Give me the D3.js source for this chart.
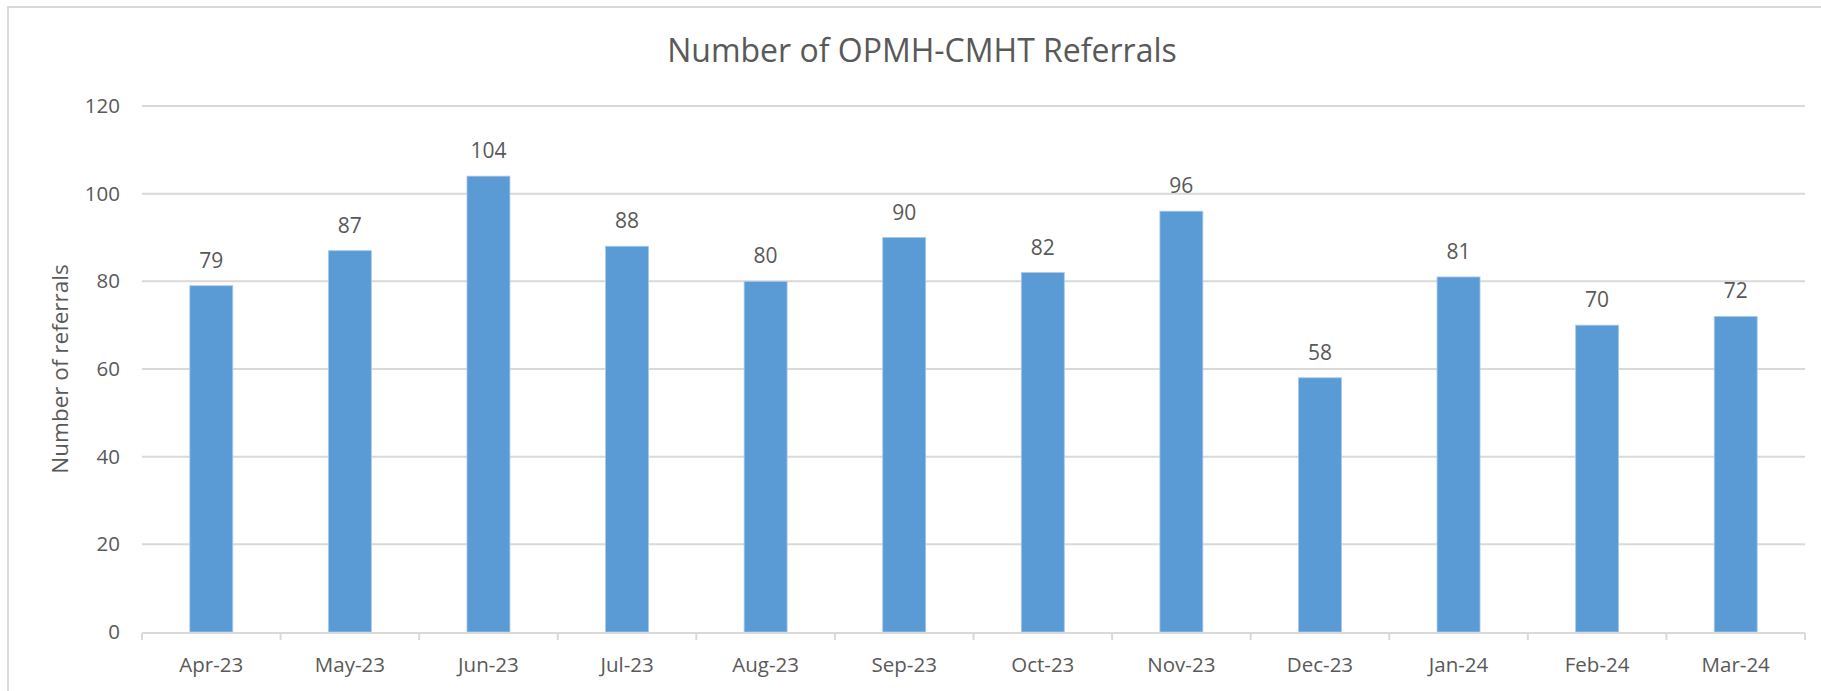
<!DOCTYPE html>
<html>
<head>
<meta charset="utf-8">
<script src="https://cdn.jsdelivr.net/npm/d3@7"></script>
<style>
  body { margin: 0; background: #fff; }
  svg { display: block; }
  text { font-family: "Open Sans", "Noto Sans", sans-serif; fill: #595959; }
</style>
</head>
<body>
<div id="chart"></div>
<script>
const months = ["Apr-23", "May-23", "Jun-23", "Jul-23", "Aug-23", "Sep-23",
                "Oct-23", "Nov-23", "Dec-23", "Jan-24", "Feb-24", "Mar-24"];
const referrals = [79, 87, 104, 88, 80, 90, 82, 96, 58, 81, 70, 72];
const yTicks = [0, 20, 40, 60, 80, 100, 120];
const chartTitle = "Number of OPMH-CMHT Referrals";
const yTitle = "Number of referrals";

const width = 1821, height = 691;
const plotLeft = 142, plotRight = 1805, plotTop = 106, plotBottom = 632;

const svg = d3.select("#chart").append("svg")
    .attr("width", width)
    .attr("height", height);

// outer chart border (cut off at right and bottom like the source)
svg.append("rect")
    .attr("x", 8).attr("y", 7)
    .attr("width", width + 10).attr("height", height + 10)
    .attr("fill", "none")
    .attr("stroke", "#d9d9d9")
    .attr("stroke-width", 2);

const x = d3.scaleBand().domain(months).range([plotLeft, plotRight]).paddingInner(0.69).paddingOuter(0.345);
const xEdge = d3.scaleBand().domain(months).range([plotLeft, plotRight]);
const y = d3.scaleLinear().domain([0, 120]).range([plotBottom, plotTop]);

// gridlines
svg.append("g")
    .selectAll("line")
    .data(yTicks.filter(d => d > 0))
    .join("line")
    .attr("x1", plotLeft).attr("x2", plotRight)
    .attr("y1", d => y(d)).attr("y2", d => y(d))
    .attr("stroke", "#d9d9d9")
    .attr("stroke-width", 2);

// y axis labels
const yAxis = d3.axisLeft(y).tickValues(yTicks).tickSize(0).tickPadding(22);
svg.append("g")
    .attr("transform", "translate(" + plotLeft + ",0)")
    .call(yAxis)
    .call(g => g.select(".domain").remove())
    .selectAll("text")
    .style("font-size", "20.5px")
    .style("font-family", "'Open Sans', sans-serif")
    .attr("fill", "#595959");

// bars
svg.append("g")
    .selectAll("rect")
    .data(referrals)
    .join("rect")
    .attr("x", (d, i) => x(months[i]))
    .attr("y", d => y(d))
    .attr("width", x.bandwidth())
    .attr("height", d => y(0) - y(d))
    .attr("fill", "#5b9bd5")
    .attr("stroke", "#a9c9ec")
    .attr("stroke-width", 0.8);

// data labels
svg.append("g")
    .selectAll("text")
    .data(referrals)
    .join("text")
    .attr("x", (d, i) => x(months[i]) + x.bandwidth() / 2)
    .attr("y", d => y(d) - 18)
    .attr("text-anchor", "middle")
    .style("font-size", "21px")
    .attr("fill", "#404040")
    .text(d => d);

// x axis line + ticks at category edges
svg.append("line")
    .attr("x1", plotLeft).attr("x2", plotRight)
    .attr("y1", plotBottom + 1).attr("y2", plotBottom + 1)
    .attr("stroke", "#d9d9d9")
    .attr("stroke-width", 2);
const edges = months.map(m => xEdge(m)).concat([plotRight]);
svg.append("g")
    .selectAll("line")
    .data(edges)
    .join("line")
    .attr("x1", d => d).attr("x2", d => d)
    .attr("y1", plotBottom + 1).attr("y2", plotBottom + 8)
    .attr("stroke", "#d9d9d9")
    .attr("stroke-width", 2);

// x labels
svg.append("g")
    .selectAll("text")
    .data(months)
    .join("text")
    .attr("x", d => xEdge(d) + xEdge.bandwidth() / 2)
    .attr("y", 672)
    .attr("text-anchor", "middle")
    .style("font-size", "20.5px")
    .text(d => d);

// title
svg.append("text")
    .attr("x", 922)
    .attr("y", 62)
    .attr("text-anchor", "middle")
    .style("font-size", "32px")
    .text(chartTitle);

// y axis title
svg.append("text")
    .attr("transform", "translate(68,369) rotate(-90)")
    .attr("text-anchor", "middle")
    .style("font-size", "22.5px")
    .text(yTitle);
</script>
</body>
</html>
